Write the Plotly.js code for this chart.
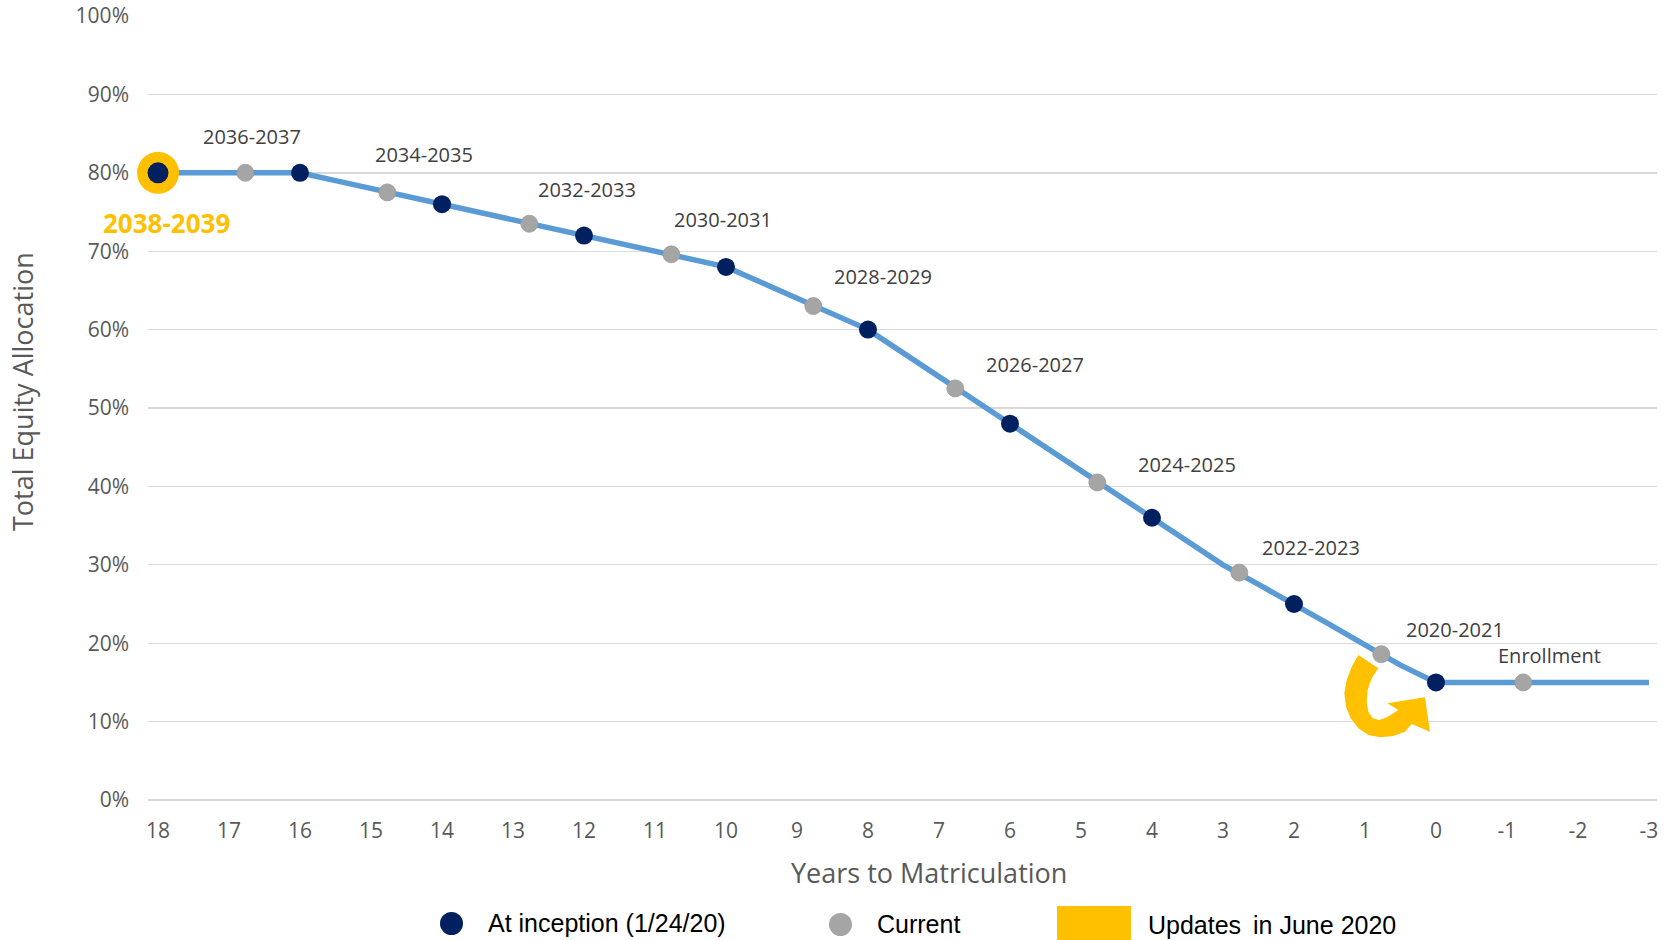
<!DOCTYPE html>
<html>
<head>
<meta charset="utf-8">
<script src="https://cdn.plot.ly/plotly-3.0.1.min.js"></script>
<style>
  html, body { margin: 0; padding: 0; background: #ffffff; }
  #chart { width: 1669px; height: 940px; }
</style>
</head>
<body>
<div id="chart"></div>
<script>
// Glide path: total equity allocation by years to matriculation
const pathYears = [18, 17.5, 17, 16.5, 16, 15.5, 15, 14.5, 14, 13.5, 13, 12.5, 12, 11.5, 11, 10.5, 10,
  9.5, 9, 8.5, 8, 7.5, 7, 6.5, 6, 5.5, 5, 4.5, 4, 3.5, 3, 2.5, 2, 1.5, 1, 0.5, 0,
  -0.5, -1, -1.5, -2, -2.5, -3];
const pathEquity = [80, 80, 80, 80, 80, 79, 78, 77, 76, 75, 74, 73, 72, 71, 70, 69, 68,
  66, 64, 62, 60, 57, 54, 51, 48, 45, 42, 39, 36, 33, 30, 27.5, 25, 22.4, 19.8, 17.2, 15,
  15, 15, 15, 15, 15, 15];

// Portfolios at inception (1/24/20)
const inceptionYears = [18, 16, 14, 12, 10, 8, 6, 4, 2, 0];
const inceptionEquity = [80, 80, 76, 72, 68, 60, 48, 36, 25, 15];

// Portfolios today
const currentYears = [16.77, 14.77, 12.77, 10.77, 8.77, 6.77, 4.77, 2.77, 0.77, -1.23];
const currentEquity = [80, 77.5, 73.5, 69.6, 63, 52.5, 40.5, 29, 18.6, 15];
const currentLabels = ['2036-2037', '2034-2035', '2032-2033', '2030-2031', '2028-2029',
  '2026-2027', '2024-2025', '2022-2023', '2020-2021', 'Enrollment'];

// Portfolio added in June 2020
const newYears = [18];
const newEquity = [80];
const newLabel = '2038-2039';

// Axis ticks
const xTickVals = [18, 17, 16, 15, 14, 13, 12, 11, 10, 9, 8, 7, 6, 5, 4, 3, 2, 1, 0, -1, -2, -3];
const xTickLabels = ['18', '17', '16', '15', '14', '13', '12', '11', '10', '9', '8', '7', '6', '5',
  '4', '3', '2', '1', '0', '-1', '-2', '-3'];
const yTickVals = [0, 10, 20, 30, 40, 50, 60, 70, 80, 90, 100];
const yTickLabels = ['0%', '10%', '20%', '30%', '40%', '50%', '60%', '70%', '80%', '90%', '100%'];

// Colours and fonts
const NAVY = '#002060', GREY = '#A5A5A5', BLUE = '#5B9BD5', GOLD = '#FFC000';
const GRID = '#D9D9D9', AXISTEXT = '#595959', LABELTEXT = '#404040';
const FONT = 'Open Sans, sans-serif';
const LEGENDFONT = 'Liberation Sans Narrow, Liberation Sans, sans-serif';

// Layout frame in pixels
const W = 1669, H = 940;
const M = { l: 148, r: 12, t: 16, b: 140 };
const plotW = W - M.l - M.r, plotH = H - M.t - M.b;
const px = v => (v - M.l) / plotW;          // pixel column -> paper x
const py = v => (H - M.b - v) / plotH;      // pixel row -> paper y

// Label offsets (pixels right, pixels up) from each current marker
const labelShift = [[7, 36], [37, 38], [58, 34], [52, 35], [70, 30], [80, 24], [90, 18], [72, 25], [74, 25], [26, 27]];

const traces = [
  {
    type: 'scatter', mode: 'lines', name: 'Glide path',
    x: pathYears, y: pathEquity,
    line: { color: BLUE, width: 5.5 },
    hoverinfo: 'skip', cliponaxis: false
  },
  {
    type: 'scatter', mode: 'markers', name: 'Updates  in June 2020',
    x: newYears, y: newEquity,
    marker: { color: GOLD, size: 42, opacity: 1, line: { width: 0 } },
    cliponaxis: false
  },
  {
    type: 'scatter', mode: 'markers', name: 'At inception (1/24/20)',
    x: inceptionYears, y: inceptionEquity,
    marker: { color: NAVY, size: inceptionYears.map((v, i) => i === 0 ? 21 : 18), opacity: 1, line: { width: 0 } },
    cliponaxis: false
  },
  {
    type: 'scatter', mode: 'markers', name: 'Current',
    x: currentYears, y: currentEquity,
    marker: { color: GREY, size: 17, opacity: 1, line: { color: '#9A9A9A', width: 0.8 } },
    cliponaxis: false
  }
];

const annotations = currentLabels.map((t, i) => ({
  x: currentYears[i], y: currentEquity[i], xref: 'x', yref: 'y',
  text: t, showarrow: false, xanchor: 'center', yanchor: 'middle',
  xshift: labelShift[i][0], yshift: labelShift[i][1],
  font: { family: FONT, size: 20, color: LABELTEXT }
}));

annotations.push({
  x: newYears[0], y: newEquity[0], xref: 'x', yref: 'y',
  text: '<b>' + newLabel + '</b>', showarrow: false, xanchor: 'center', yanchor: 'middle',
  xshift: 8, yshift: -50,
  font: { family: FONT, size: 26, color: GOLD }
});

// Axis titles
annotations.push({
  x: px(22), y: py(392), xref: 'paper', yref: 'paper', textangle: -90,
  text: 'Total Equity Allocation', showarrow: false, xanchor: 'center', yanchor: 'middle',
  font: { family: FONT, size: 27, color: AXISTEXT }
});
annotations.push({
  x: px(929), y: py(873), xref: 'paper', yref: 'paper',
  text: 'Years to Matriculation', showarrow: false, xanchor: 'center', yanchor: 'middle',
  font: { family: FONT, size: 27, color: AXISTEXT }
});

// Legend row
const legendItems = [
  { text: 'At inception (1/24/20)', x: 486, y: 923 },
  { text: 'Current', x: 875, y: 924 },
  { text: 'Updates\u2009 in June 2020', x: 1146, y: 925 }
];
legendItems.forEach(it => annotations.push({
  x: px(it.x), y: py(it.y), xref: 'paper', yref: 'paper',
  text: it.text, showarrow: false, xanchor: 'left', yanchor: 'middle',
  font: { family: LEGENDFONT, size: 25, color: '#000000' }
}));

const shapes = [
  { type: 'circle', xref: 'paper', yref: 'paper', x0: px(440), x1: px(463), y0: py(935), y1: py(912),
    fillcolor: NAVY, line: { width: 0 } },
  { type: 'circle', xref: 'paper', yref: 'paper', x0: px(829), x1: px(852), y0: py(936), y1: py(913),
    fillcolor: GREY, line: { width: 0 } },
  { type: 'rect', xref: 'paper', yref: 'paper', x0: px(1057), x1: px(1131), y0: py(950), y1: py(906),
    fillcolor: GOLD, line: { width: 0 } }
];

// Curved arrow marking the June 2020 shift
const arrowOutline = [
  [85, 45], [65, 80], [50, 120], [43, 160], [48, 200], [62, 235], [85, 265], [115, 285],
  [150, 292], [190, 288], [225, 275], [245, 252], [300, 275], [285, 172], [172, 190],
  [205, 210], [190, 220], [170, 232], [148, 240], [128, 235], [115, 215], [110, 185],
  [113, 150], [125, 115], [145, 85]
].map(p => [1330 + p[0] / 3, 640 + p[1] / 3]);
const arrowPath = arrowOutline.map((p, i) => (i === 0 ? 'M' : 'L') + px(p[0]).toFixed(5) + ',' + py(p[1]).toFixed(5)).join(' ') + ' Z';
shapes.push({ type: 'path', xref: 'paper', yref: 'paper', path: arrowPath, fillcolor: GOLD, line: { width: 0 } });

const layout = {
  width: W, height: H,
  margin: M,
  paper_bgcolor: '#ffffff', plot_bgcolor: '#ffffff',
  showlegend: false,
  font: { family: FONT, color: AXISTEXT },
  xaxis: {
    range: [18.141, -3.113],
    tickmode: 'array', tickvals: xTickVals, ticktext: xTickLabels,
    showgrid: false, zeroline: false, showline: false,
    ticks: '', ticklabelstandoff: 16,
    tickfont: { family: FONT, size: 21, color: AXISTEXT },
    fixedrange: true
  },
  yaxis: {
    range: [0, 100],
    tickmode: 'array', tickvals: yTickVals, ticktext: yTickLabels,
    showgrid: true, gridcolor: GRID, gridwidth: 1.4,
    zeroline: true, zerolinecolor: GRID, zerolinewidth: 1.4,
    showline: false, ticks: '', ticklabelstandoff: 18,
    tickfont: { family: FONT, size: 21, color: AXISTEXT },
    fixedrange: true
  },
  annotations: annotations,
  shapes: shapes
};

Plotly.newPlot('chart', traces, layout, { displayModeBar: false, staticPlot: true });
</script>
</body>
</html>
